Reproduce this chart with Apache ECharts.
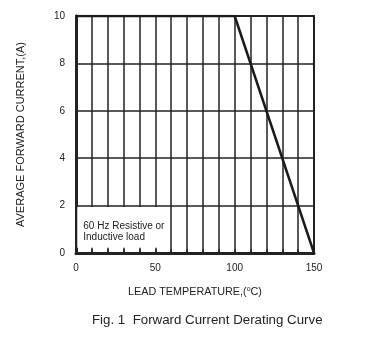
<!DOCTYPE html>
<html>
<head>
<meta charset="utf-8">
<script src="https://cdn.jsdelivr.net/npm/echarts@6/dist/echarts.min.js"></script>
<style>
  html, body { margin: 0; padding: 0; background: #fff; }
  #chart { width: 371px; height: 340px; }
</style>
</head>
<body>
<div id="chart"></div>
<script>
// Derating curve: lead temperature (°C) vs average forward current (A)
const temperature = [0, 100, 150];
const current = [10, 10, 0];
const xTicks = [0, 50, 100, 150];
const yTicks = [0, 2, 4, 6, 8, 10];
const noteLines = ['60 Hz Resistive or', 'Inductive load'];

const FONT = '"Liberation Sans", Arial, sans-serif';
const chart = echarts.init(document.getElementById('chart'), null, { renderer: 'canvas' });

chart.setOption({
  animation: false,
  backgroundColor: '#fff',
  title: {
    text: 'Fig. 1  Forward Current Derating Curve',
    left: 87, top: 309,
    textStyle: { fontFamily: FONT, fontSize: 13.3, fontWeight: 'normal', color: '#222' }
  },
  grid: { left: 76, right: 57, top: 16, bottom: 87, containLabel: false,
          show: true, borderColor: '#222', borderWidth: 2 },
  xAxis: {
    type: 'value', min: 0, max: 150, interval: 10,
    name: 'LEAD TEMPERATURE,({s|o}C)',
    nameLocation: 'middle', nameGap: 33,
    nameTextStyle: { fontFamily: FONT, fontSize: 10.8, color: '#222',
      rich: { s: { fontSize: 7, verticalAlign: 'top', padding: [0, 0, 6, 0], fontFamily: FONT, color: '#222' } } },
    axisLine: { show: true, onZero: false, lineStyle: { color: '#222', width: 3 } },
    axisTick: { show: true, inside: true, length: 4, lineStyle: { color: '#222', width: 1.5 } },
    axisLabel: { margin: 10, fontFamily: FONT, fontSize: 10, color: '#222',
      formatter: v => xTicks.includes(v) ? String(v) : '' },
    splitLine: { show: true, lineStyle: { color: '#222', width: 1.5 } }
  },
  yAxis: {
    type: 'value', min: 0, max: 10, interval: 2,
    name: 'AVERAGE FORWARD CURRENT,(A)',
    nameLocation: 'middle', nameGap: 50,
    nameTextStyle: { fontFamily: FONT, fontSize: 11, color: '#222' },
    axisLine: { show: true, lineStyle: { color: '#222', width: 3 } },
    axisTick: { show: false },
    axisLabel: { margin: 11, fontFamily: FONT, fontSize: 10, color: '#222',
      formatter: v => yTicks.includes(v) ? String(v) : '' },
    splitLine: { show: true, lineStyle: { color: '#222', width: 1.5 } }
  },
  series: [{
    type: 'line',
    data: temperature.map((t, i) => [t, current[i]]),
    symbol: 'none',
    lineStyle: { color: '#1a1a1a', width: 2.5 },
    markArea: {
      silent: true,
      itemStyle: { color: '#fff' },
      label: {
        show: true, position: [6, 14],
        formatter: noteLines.join('\n'),
        fontFamily: FONT, fontSize: 10, lineHeight: 11, color: '#222'
      },
      data: [[{ coord: [0.8, 1.94] }, { coord: [57, 0.22] }]]
    }
  }]
});
</script>
</body>
</html>
